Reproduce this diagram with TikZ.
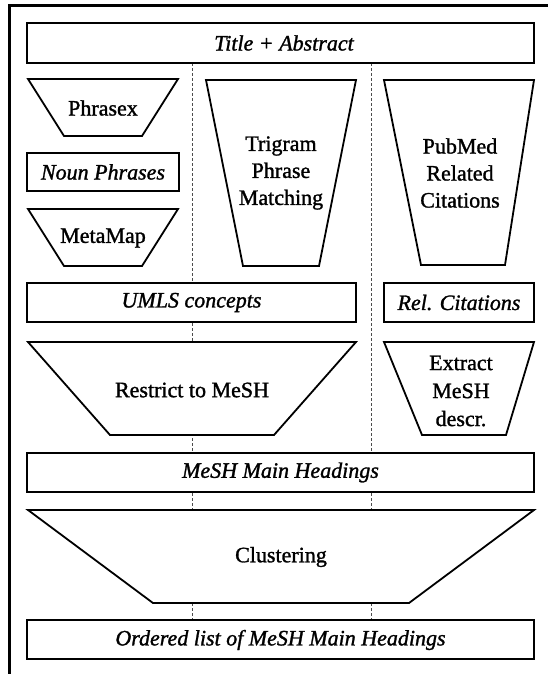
\documentclass[tikz,border=0pt]{standalone}
\usepackage{fontspec}
\setmainfont{Liberation Serif}[FakeBold=1.3]
\begin{document}
\begin{tikzpicture}[x=1pt,y=-1pt,
  shp/.style={draw, line width=1.8pt, fill=white, line join=miter},
  lbl/.style={font=\fontsize{22}{27}\selectfont, align=center, inner sep=0pt},
  ilbl/.style={font=\fontsize{22}{27}\selectfont\itshape, align=center, inner sep=0pt},
  guide/.style={line width=0.8pt, black!70, dash pattern=on 3pt off 2pt},
  frame/.style={line width=3pt}]
\useasboundingbox (0,0) rectangle (548,674);
% frame
\draw[frame] (9.5,674) -- (9.5,5.5) -- (548,5.5);
% guide lines
\coordinate (g1t) at (192,63);
\coordinate (g1b) at (192,620);
\coordinate (g2t) at (371,63);
\coordinate (g2b) at (371,620);
\draw[guide] (g1t) -- (g1b);
\draw[guide] (g2t) -- (g2b);
% title
\draw[shp] (27,23) rectangle (534,63);
\node[ilbl] (title) at (284,43) {Title + Abstract};
% phrasex
\draw[shp] (28,79) -- (178,79) -- (142,136) -- (64,136) -- cycle;
\node[lbl] (phrasex) at (103,108) {Phrasex};
% noun phrases
\draw[shp] (27,153) rectangle (179,191);
\node[ilbl] (noun) at (103,172) {Noun Phrases};
% metamap
\draw[shp] (28,209) -- (178,209) -- (142,266) -- (64,266) -- cycle;
\node[lbl] (metamap) at (103,238) {MetaMap};
% trigram
\draw[shp] (206,80) -- (356,80) -- (319,266) -- (243,266) -- cycle;
\node[lbl] (trigram) at (281,173) {Trigram\\Phrase\\Matching};
% pubmed
\draw[shp] (384,80) -- (534,80) -- (505,265) -- (421,265) -- cycle;
\node[lbl] (pubmed) at (460,173) {PubMed\\Related\\Citations};
% umls
\draw[shp] (27,283) rectangle (356,322);
\node[ilbl] (umls) at (191.5,302.5) {UMLS concepts};
% rel citations
\draw[shp] (384,283) rectangle (534,322);
\node[ilbl] (rel) at (459,302.5) {Rel. Citations};
% restrict
\draw[shp] (28,342) -- (356,342) -- (274,435) -- (110,435) -- cycle;
\node[lbl] (restrict) at (192,390) {Restrict to MeSH};
% extract
\draw[shp] (384,342) -- (534,342) -- (506,435) -- (422,435) -- cycle;
\node[lbl, font=\fontsize{22}{28}\selectfont] (extract) at (461,391) {Extract\\MeSH\\descr.};
% mesh main headings
\draw[shp] (27,453) rectangle (534,492);
\node[ilbl] (mesh) at (280.5,472.5) {MeSH Main Headings};
% clustering
\draw[shp] (28,510) -- (534,510) -- (409,603) -- (153,603) -- cycle;
\node[lbl] (cluster) at (281,557) {Clustering};
% ordered list
\draw[shp] (27,620) rectangle (534,659);
\node[ilbl] (ordered) at (280.5,640) {Ordered list of MeSH Main Headings};
\end{tikzpicture}
\end{document}
